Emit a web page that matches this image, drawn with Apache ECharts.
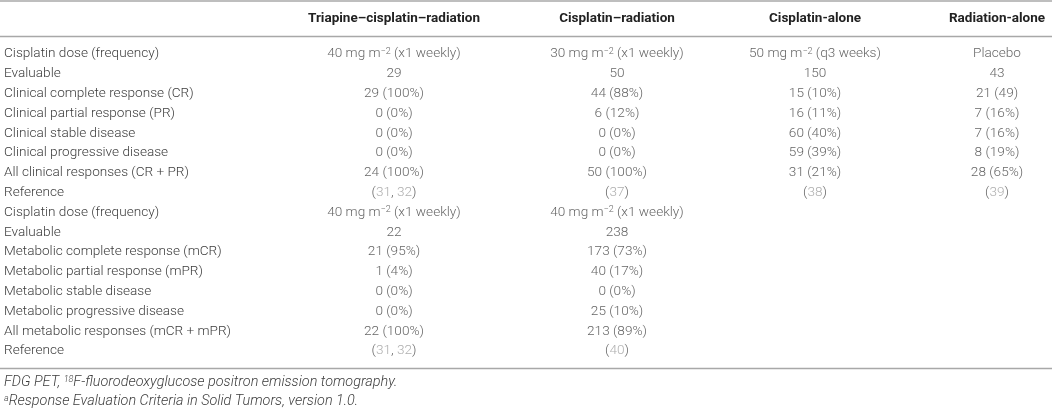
<!DOCTYPE html>
<html><head><meta charset="utf-8">
<script src="https://cdn.jsdelivr.net/npm/echarts@6/dist/echarts.min.js"></script>
<style>html,body{margin:0;padding:0;background:#fff}#c{width:1052px;height:410px}</style>
</head><body><div id="c"></div>
<script>
const rowLabels = ["Cisplatin dose (frequency)","Evaluable","Clinical complete response (CR)","Clinical partial response (PR)","Clinical stable disease","Clinical progressive disease","All clinical responses (CR + PR)","Reference","Cisplatin dose (frequency)","Evaluable","Metabolic complete response (mCR)","Metabolic partial response (mPR)","Metabolic stable disease","Metabolic progressive disease","All metabolic responses (mCR + mPR)","Reference"];
const colHeaders = ["Triapine–cisplatin–radiation","Cisplatin–radiation","Cisplatin-alone","Radiation-alone"];
const colTriapine = ["40 mg m^−2 (x1 weekly)","29","29 (100%)","0 (0%)","0 (0%)","0 (0%)","24 (100%)",[31,32],"40 mg m^−2 (x1 weekly)","22","21 (95%)","1 (4%)","0 (0%)","0 (0%)","22 (100%)",[31,32]];
const colCisRad = ["30 mg m^−2 (x1 weekly)","50","44 (88%)","6 (12%)","0 (0%)","0 (0%)","50 (100%)",[37],"40 mg m^−2 (x1 weekly)","238","173 (73%)","40 (17%)","0 (0%)","25 (10%)","213 (89%)",[40]];
const colCisAlone = ["50 mg m^−2 (q3 weeks)","150","15 (10%)","16 (11%)","60 (40%)","59 (39%)","31 (21%)",[38],null,null,null,null,null,null,null,null];
const colRadAlone = ["Placebo","43","21 (49)","7 (16%)","7 (16%)","8 (19%)","28 (65%)",[39],null,null,null,null,null,null,null,null];
const footnotes = ["FDG PET, {sup|18}F-fluorodeoxyglucose positron emission tomography.","{sup|a}Response Evaluation Criteria in Solid Tumors, version 1.0."];

// layout constants
const W = 1052, H = 410;
const colX = [394, 617, 815, 997];
const FONT = 'Roboto';
const TXT = '#3c3c3c';
const FS = 13.6;
const columns = [colTriapine, colCisRad, colCisAlone, colRadAlone];

function fmt(v){
  if (Array.isArray(v)) return '(' + v.map(n => '{g|' + n + '}').join(', ') + ')';
  return String(v).replace(/\^(\S+)/, '{sup|$1}');
}
const rich = {
  g: {color:'#9a9a9a', fontSize:FS, fontFamily:FONT, fontWeight:300},
  sup: {fontSize:9, verticalAlign:'top', color:TXT, fontFamily:FONT, fontWeight:300, padding:[0,0,5,0]}
};

const series = columns.map((col, c) => ({
  type:'scatter', symbolSize:0, silent:true,
  data: col.map((v, i) => v === null ? null : {value:[colX[c], i], txt: fmt(v)}).filter(d => d),
  label:{show:true, position:'inside', formatter: p => p.data.txt, color:TXT, fontSize:FS, fontFamily:FONT, fontWeight:300, rich: rich}
}));

const chart = echarts.init(document.getElementById('c'), null, {renderer:'canvas'});
const ruleStyle = {stroke:'#a8a8a8', lineWidth:1.5};
chart.setOption({
  animation:false,
  grid:{left:0, right:0, top:44.1, height:316.8},
  xAxis:{type:'value', min:0, max:W, show:false},
  yAxis:{type:'category', data:rowLabels.map((l,i)=>i), inverse:true,
    axisLine:{show:false}, axisTick:{show:false}, splitLine:{show:false},
    axisLabel:{inside:true, margin:4, align:'left', formatter:(v,i)=>rowLabels[i], color:TXT, fontSize:FS, fontFamily:FONT, fontWeight:300}},
  series: series,
  graphic: [
    {type:'line', shape:{x1:0,y1:1,x2:W,y2:1}, style:ruleStyle},
    {type:'line', shape:{x1:0,y1:36.5,x2:W,y2:36.5}, style:ruleStyle},
    {type:'line', shape:{x1:0,y1:368.5,x2:W,y2:368.5}, style:ruleStyle},
    ...colHeaders.map((h,c)=>({type:'text', x:colX[c], y:19, style:{text:h, align:'center', verticalAlign:'middle', fill:'#222', font:'bold 13.5px ' + FONT}})),
    ...footnotes.map((f,k)=>({type:'text', x:4, y:382 + k*19, style:{text:f, align:'left', verticalAlign:'middle', fill:TXT, fontFamily:FONT, fontSize:14.4, fontStyle:'italic', fontWeight:300,
      rich:{sup:{fontSize:9, verticalAlign:'top', fill:TXT, fontStyle:'italic', fontFamily:FONT, fontWeight:300, padding:[0,0,4,0]}}}}))
  ]
});
</script></body></html>
